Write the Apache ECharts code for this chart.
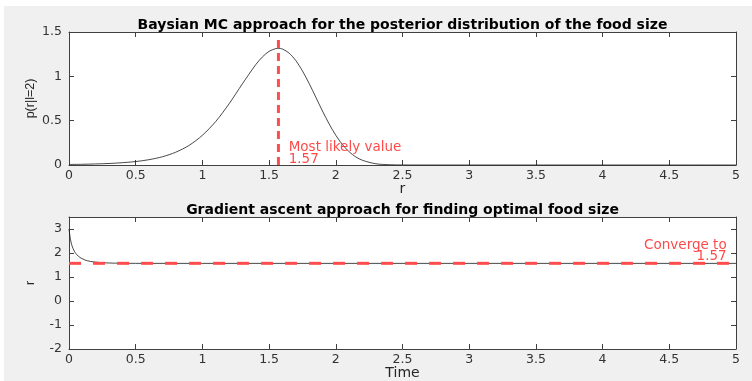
<!DOCTYPE html>
<html>
<head>
    <meta charset="utf-8">
    <title>ECharts</title>
    <script src="https://cdn.jsdelivr.net/npm/echarts@6/dist/echarts.min.js"></script>
    <style>
        body { margin: 0; background: #fff; }
    </style>
</head>
<body>
    <div id="main" style="width: 752px;height:381px;"></div>
    <script type="text/javascript">
        // posterior p(r|l=2)
        var postR = [0, 0.1, 0.2, 0.3, 0.4, 0.5, 0.6, 0.7, 0.8, 0.9, 1.0, 1.1, 1.2, 1.3, 1.4, 1.45, 1.5, 1.55, 1.57, 1.6,
            1.65, 1.7, 1.75, 1.8, 1.85, 1.9, 1.95, 2.0, 2.05, 2.1, 2.15, 2.2, 2.3, 2.4, 2.5, 2.6, 3, 3.5, 4, 4.5, 5];
        var postP = [0.006, 0.008, 0.012, 0.017, 0.026, 0.039, 0.060, 0.093, 0.144, 0.221, 0.335, 0.491, 0.690, 0.916, 1.132, 1.219, 1.282, 1.313, 1.316, 1.308,
            1.262, 1.178, 1.061, 0.920, 0.765, 0.609, 0.463, 0.335, 0.230, 0.149, 0.091, 0.053, 0.014, 0.003, 0.0004, 0, 0, 0, 0, 0, 0];

        // gradient ascent trajectory, lower plot
        var gradT = [0, 0.01, 0.02, 0.03, 0.04, 0.05, 0.06, 0.07, 0.08, 0.09, 0.1, 0.12, 0.14, 0.16, 0.18, 0.2,
            0.25, 0.3, 0.35, 0.4, 0.5, 0.6, 0.8, 1, 2, 3, 4, 5];
        var gradR = [3, 2.58, 2.344, 2.187, 2.073, 1.987, 1.920, 1.866, 1.822, 1.786, 1.755, 1.708, 1.674, 1.650, 1.633, 1.619,
            1.596, 1.583, 1.576, 1.572, 1.569, 1.568, 1.5676, 1.5675, 1.5675, 1.5675, 1.5675, 1.5675];

        var bestR = 1.57;
        var modeLineY = [0, 1.42];
        var convLineT = [0, 5];
        var topNote = [1.647, 0.13, 'Most likely value\n1.57'];
        var botNote = [4.93, 2.08, 'Converge to\n1.57'];

        var xTicks = [0, 0.5, 1, 1.5, 2, 2.5, 3, 3.5, 4, 4.5, 5];
        var topYTicks = [0, 0.5, 1, 1.5];
        var botYTicks = [-2, -1, 0, 1, 2, 3];

        var titles = ['Baysian MC approach for the posterior distribution of the food size',
            'Gradient ascent approach for finding optimal food size'];

        var axCol = '#404040';
        var font = 'DejaVu Sans';

        var pair = function (xs, ys) {
            return xs.map(function (x, i) { return [x, ys[i]]; });
        };

        var xAx = function (grid, pos, name, title) {
            return {
                type: 'value', gridIndex: grid, position: pos, min: 0, max: 5, interval: 0.5,
                name: title || name, nameLocation: 'middle', nameMoveOverlap: false,
                nameGap: title ? 0 : 17,
                nameTextStyle: title ? {fontFamily: font, fontWeight: 'bold', fontSize: 14, color: '#000'}
                                     : {fontFamily: font, fontSize: 14, color: '#262626'},
                axisLine: {show: true, onZero: false, lineStyle: {color: axCol, width: 1}},
                axisTick: {show: true, inside: true, length: 5, lineStyle: {color: axCol}, customValues: xTicks},
                axisLabel: {show: pos === 'bottom', margin: 4, fontFamily: font, fontSize: 12.5, color: '#333',
                    customValues: xTicks},
                splitLine: {show: false}
            };
        };

        var yAx = function (grid, pos, mn, mx, ticks, name) {
            return {
                type: 'value', gridIndex: grid, position: pos, min: mn, max: mx,
                name: name || '', nameLocation: 'middle', nameMoveOverlap: false,
                nameGap: pos === 'left' ? 32 : 0, nameRotate: 90,
                nameTextStyle: {fontFamily: 'Liberation Sans', fontSize: 12.5, color: '#262626'},
                axisLine: {show: true, onZero: false, lineStyle: {color: axCol, width: 1}},
                axisTick: {show: true, inside: true, length: 5, lineStyle: {color: axCol}, customValues: ticks},
                axisLabel: {show: pos === 'left', margin: 7, fontFamily: font, fontSize: 12.5, color: '#333',
                    customValues: ticks},
                splitLine: {show: false}
            };
        };

        var noteSeries = function (xi, yi, note, side) {
            return {
                type: 'scatter', xAxisIndex: xi, yAxisIndex: yi, symbolSize: 0, silent: true,
                data: [[note[0], note[1]]],
                label: {
                    show: true, position: side, distance: 0, formatter: note[2],
                    align: side === 'right' ? 'left' : 'right',
                    fontFamily: font, fontSize: 13.5, lineHeight: 11.5, color: '#ff1a1a'
                },
                z: 5
            };
        };

        var myChart = echarts.init(document.getElementById('main'));

        myChart.setOption({
            animation: false,
            backgroundColor: '#fff',
            graphic: [{
                type: 'rect', left: 4, top: 6, z: -10,
                shape: {width: 748, height: 375},
                style: {fill: '#f0f0f0'}
            }],
            grid: [
                {left: 69, top: 32, width: 667, height: 133, show: true, backgroundColor: '#fff', borderWidth: 0},
                {left: 69, top: 217, width: 667, height: 133, show: true, backgroundColor: '#fff', borderWidth: 0}
            ],
            xAxis: [
                xAx(0, 'bottom', 'r'),
                xAx(0, 'top', '', titles[0]),
                xAx(1, 'bottom', 'Time'),
                xAx(1, 'top', '', titles[1])
            ],
            yAxis: [
                yAx(0, 'left', 0, 1.5, topYTicks, 'p(r|l=2)'),
                yAx(0, 'right', 0, 1.5, topYTicks),
                yAx(1, 'left', -2, 3.5, botYTicks, 'r'),
                yAx(1, 'right', -2, 3.5, botYTicks)
            ],
            series: [{
                type: 'line', xAxisIndex: 0, yAxisIndex: 0, showSymbol: false, smooth: 0.3,
                lineStyle: {color: '#1a1a1a', width: 0.8},
                data: pair(postR, postP)
            }, {
                type: 'line', xAxisIndex: 0, yAxisIndex: 0, showSymbol: false,
                lineStyle: {color: '#ff4d4d', width: 3, type: [8, 5]},
                data: pair([bestR, bestR], modeLineY), z: 3
            }, noteSeries(0, 0, topNote, 'right'), {
                type: 'line', xAxisIndex: 2, yAxisIndex: 2, showSymbol: false,
                lineStyle: {color: '#1a1a1a', width: 0.8},
                data: pair(gradT, gradR)
            }, {
                type: 'line', xAxisIndex: 2, yAxisIndex: 2, showSymbol: false,
                lineStyle: {color: '#ff4d4d', width: 3, type: [12, 12]},
                data: pair(convLineT, [bestR, bestR]), z: 3
            }, noteSeries(2, 2, botNote, 'left')]
        });
    </script>
</body>
</html>
